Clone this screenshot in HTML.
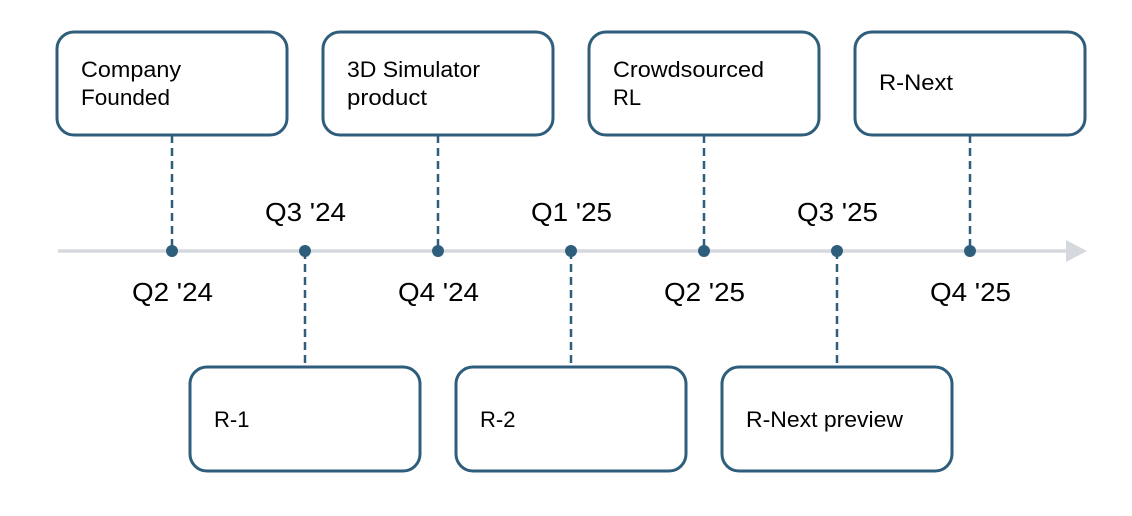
<!DOCTYPE html>
<html><head><meta charset="utf-8"><style>
html,body{margin:0;padding:0;background:#fff;}
svg{display:block;}
text{font-family:"Liberation Sans",sans-serif;fill:#000;}
</style></head><body>
<svg width="1132" height="516" viewBox="0 0 1132 516" xmlns="http://www.w3.org/2000/svg">
<line x1="58" y1="251" x2="1068" y2="251" stroke="#d5d9de" stroke-width="3.5"/>
<polygon points="1066,240 1087,251 1066,262" fill="#d5d9de"/>
<g stroke="#2f5d7c" stroke-width="2.5" stroke-dasharray="8,5" fill="none">
<line x1="172" y1="135" x2="172" y2="251"/>
<line x1="438" y1="135" x2="438" y2="251"/>
<line x1="704" y1="135" x2="704" y2="251"/>
<line x1="970" y1="135" x2="970" y2="251"/>
<line x1="305" y1="251" x2="305" y2="366"/>
<line x1="571" y1="251" x2="571" y2="366"/>
<line x1="837" y1="251" x2="837" y2="366"/>
</g>
<g fill="#2f5d7c">
<circle cx="172" cy="251" r="6"/><circle cx="305" cy="251" r="6"/><circle cx="438" cy="251" r="6"/>
<circle cx="571" cy="251" r="6"/><circle cx="704" cy="251" r="6"/><circle cx="837" cy="251" r="6"/><circle cx="970" cy="251" r="6"/>
</g>
<g fill="#fff" stroke="#2f5d7c" stroke-width="3">
<rect x="57" y="32" width="230" height="103" rx="17"/>
<rect x="323" y="32" width="230" height="103" rx="17"/>
<rect x="589" y="32" width="230" height="103" rx="17"/>
<rect x="855" y="32" width="230" height="103" rx="17"/>
<rect x="190" y="367" width="230" height="104" rx="17"/>
<rect x="456" y="367" width="230" height="104" rx="17"/>
<rect x="722" y="367" width="230" height="104" rx="17"/>
</g>
<g font-size="22">
<text x="81" y="77" textLength="100" lengthAdjust="spacingAndGlyphs">Company</text>
<text x="81" y="105" textLength="89" lengthAdjust="spacingAndGlyphs">Founded</text>
<text x="347" y="77" textLength="133" lengthAdjust="spacingAndGlyphs">3D Simulator</text>
<text x="347" y="105" textLength="80" lengthAdjust="spacingAndGlyphs">product</text>
<text x="613" y="77" textLength="151" lengthAdjust="spacingAndGlyphs">Crowdsourced</text>
<text x="613" y="105">RL</text>
<text x="879" y="90" textLength="74" lengthAdjust="spacingAndGlyphs">R-Next</text>
<text x="214" y="427">R-1</text>
<text x="480" y="427">R-2</text>
<text x="746" y="427" textLength="157" lengthAdjust="spacingAndGlyphs">R-Next preview</text>
</g>
<g font-size="26">
<text x="265" y="221" textLength="81" lengthAdjust="spacingAndGlyphs">Q3 '24</text>
<text x="531" y="221" textLength="81" lengthAdjust="spacingAndGlyphs">Q1 '25</text>
<text x="797" y="221" textLength="81" lengthAdjust="spacingAndGlyphs">Q3 '25</text>
<text x="132" y="301" textLength="81" lengthAdjust="spacingAndGlyphs">Q2 '24</text>
<text x="398" y="301" textLength="81" lengthAdjust="spacingAndGlyphs">Q4 '24</text>
<text x="664" y="301" textLength="81" lengthAdjust="spacingAndGlyphs">Q2 '25</text>
<text x="930" y="301" textLength="81" lengthAdjust="spacingAndGlyphs">Q4 '25</text>
</g>
</svg>
</body></html>
